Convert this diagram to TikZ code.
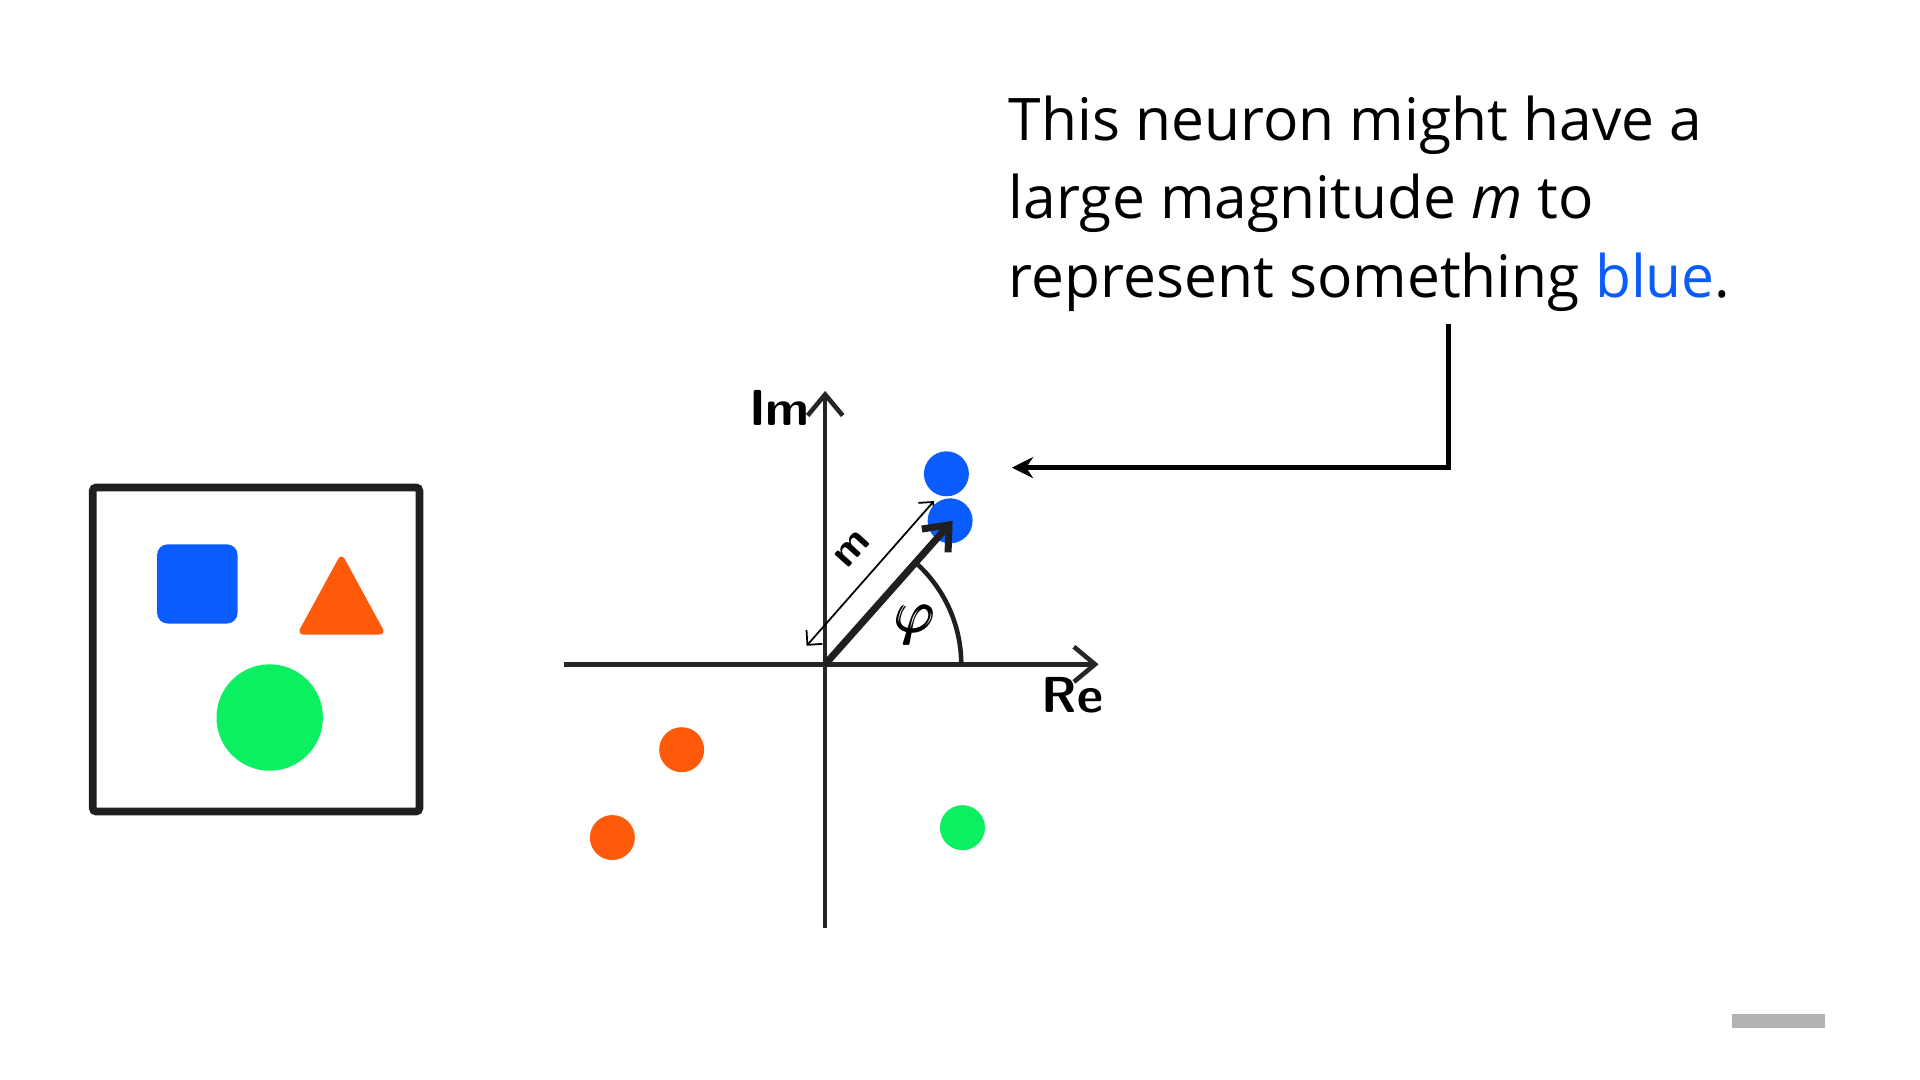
\documentclass[tikz,border=0pt]{standalone}
\usepackage{amsmath,amssymb}
\usepackage{fontspec}
\setmainfont{Open Sans}
\usetikzlibrary{arrows.meta}
\definecolor{mblue}{HTML}{0A5CFF}
\definecolor{morange}{HTML}{FF5A0A}
\definecolor{mgreen}{HTML}{0AF060}
\begin{document}
\begin{tikzpicture}[x=0.01237cm,y=-0.01237cm,
  dot/.style={circle,inner sep=0pt,minimum size=0.45cm},
  ax/.style={line width=1.3pt,black!85,-{Straight Barb[length=6pt,width=10pt]}},
  lbl/.style={font=\sffamily\bfseries\Large}]
\useasboundingbox (0,0) rectangle (1552,873);
\draw[line width=2.2pt,black!88,rounded corners=1pt] (75,394) rectangle (339,656);
\fill[mblue,rounded corners=3pt] (127,440) rectangle (192,504);
\fill[morange,rounded corners=2pt] (240,513) -- (312,513) -- (276,447) -- cycle;
\fill[mgreen] (218,580) circle (43);
\coordinate (O) at (667,537);
\coordinate (xs) at (456,537); \coordinate (xe) at (888,537);
\coordinate (ys) at (667,750); \coordinate (ye) at (667,316);
\draw[ax] (xs) -- (xe);
\draw[ax] (ys) -- (ye);
\node[lbl] (im) at (630,330) {Im};
\node[lbl] (re) at (867,562) {Re};
\draw[line width=1.3pt,black!88] (777,537) arc[start angle=0,end angle=-47,radius=110];
\node[font=\LARGE] (phi) at (740,505) {$\pmb{\varphi}$};
\coordinate (d1) at (652,522); \coordinate (d2) at (755,405);
\draw[line width=0.5pt,{Straight Barb[length=3pt]}-{Straight Barb[length=3pt]}] (d1) -- (d2);
\node[lbl,rotate=48,font=\sffamily\bfseries\large] (m) at (689,444) {m};
\node[dot,fill=mblue] (b1) at (765,383) {};
\node[dot,fill=mblue] (b2) at (768,421) {};
\node[dot,fill=morange] (o1) at (551,606) {};
\node[dot,fill=morange] (o2) at (495,677) {};
\node[dot,fill=mgreen] (g1) at (778,669) {};
\coordinate (V) at (770,421);
\draw[line width=2pt,black!88,-{Straight Barb[length=6pt,width=10pt]}] (O) -- (V);
\node[anchor=north west,align=left,font=\fontsize{16.7}{22.3}\selectfont,inner sep=0pt] (txt) at (815,77)
 {This neuron might have a\\ large magnitude \textit{m} to\\ represent something \textcolor{mblue}{blue}.};
\coordinate (c1) at (1171,262); \coordinate (c2) at (1171,378); \coordinate (c3) at (818,378);
\draw[line width=1.3pt,-{Stealth[length=6pt,width=6pt]}] (c1) -- (c2) -- (c3);
\draw[line width=4pt,black!30] (1400,825) -- (1475,825);
\end{tikzpicture}
\end{document}
